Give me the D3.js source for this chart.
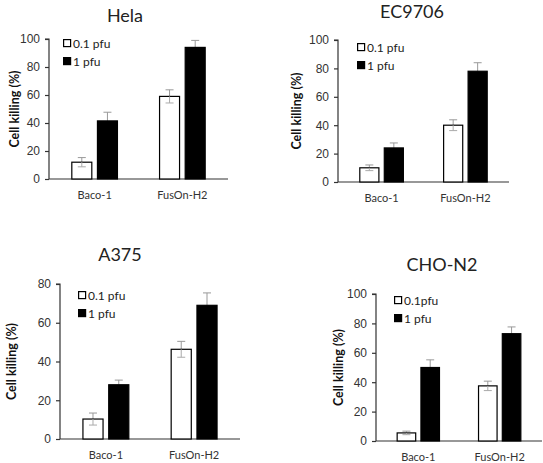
<!DOCTYPE html>
<html>
<head>
<meta charset="utf-8">
<script src="https://cdn.jsdelivr.net/npm/d3@7"></script>
<style>
  body { margin: 0; background: #fff; }
  svg { display: block; font-family: Lato, "Open Sans", sans-serif; }
</style>
</head>
<body>
<div id="chart"></div>
<script>
// --------------------------------------
//  data
// --------------------------------------

const categories = ["Baco-1", "FusOn-H2"];
const seriesNames = ["0.1 pfu", "1 pfu"];
const seriesNamesCho = ["0.1pfu", "1 pfu"];

const helaLow = [12, 59];
const helaLowErr = [3.3, 4.7];
const helaHigh = [41.5, 94];
const helaHighErr = [6.2, 5];

const ecLow = [10, 40];
const ecLowErr = [2, 3.8];
const ecHigh = [24, 78];
const ecHighErr = [3.5, 6];

const a375Low = [10.3, 46.3];
const a375LowErr = [3.1, 4.1];
const a375High = [28, 69];
const a375HighErr = [2.4, 6.4];

const choLow = [5.5, 37.5];
const choLowErr = [1.2, 3.2];
const choHigh = [50, 73];
const choHighErr = [5.2, 4.6];

const ticks100 = [0, 20, 40, 60, 80, 100];
const ticks80 = [0, 20, 40, 60, 80];

// --------------------------------------
//  panel layout
// --------------------------------------

const width = 543, height = 463;

const panels = [
  { title: "Hela", names: seriesNames, low: helaLow, lowErr: helaLowErr, high: helaHigh, highErr: helaHighErr,
    yMax: 100, ticks: ticks100, x0: 49, x1: 228, yTop: 39, yBot: 179, titleX: 125, titleY: 22, labelX: 14, legX: 63, legY: 39 },
  { title: "EC9706", names: seriesNames, low: ecLow, lowErr: ecLowErr, high: ecHigh, highErr: ecHighErr,
    yMax: 100, ticks: ticks100, x0: 338, x1: 509, yTop: 40, yBot: 182, titleX: 412, titleY: 18, labelX: 296, legX: 357, legY: 43 },
  { title: "A375", names: seriesNames, low: a375Low, lowErr: a375LowErr, high: a375High, highErr: a375HighErr,
    yMax: 80, ticks: ticks80, x0: 60, x1: 240, yTop: 284, yBot: 439, titleX: 120, titleY: 261, labelX: 11, legX: 78, legY: 291 },
  { title: "CHO-N2", names: seriesNamesCho, low: choLow, lowErr: choLowErr, high: choHigh, highErr: choHighErr,
    yMax: 100, ticks: ticks100, x0: 376, x1: 542, yTop: 294, yBot: 441, titleX: 442, titleY: 271, labelX: 338, legX: 394, legY: 296 }
];

const svg = d3.select("#chart")
  .append("svg")
    .attr("width", width)
    .attr("height", height)
    .attr("viewBox", [0, 0, width, height]);

panels.forEach(p => {

  const g = svg.append("g");

  // scales
  let x = d3.scaleBand()
      .domain(categories)
      .range([p.x0, p.x1])
      .paddingInner(0.48)
      .paddingOuter(0.26);

  let xs = d3.scaleBand()
      .domain([0, 1])
      .range([0, x.bandwidth()])
      .padding(0.22)
      .paddingOuter(0);

  let y = d3.scaleLinear()
      .domain([0, p.yMax])
      .range([p.yBot, p.yTop]);

  // axes
  const yAxis = g.append("g")
      .attr("transform", `translate(${p.x0}, 0)`)
      .call(d3.axisLeft(y).tickValues(p.ticks).tickSize(4).tickPadding(5));
  yAxis.select(".domain").attr("stroke", "#333").attr("stroke-width", 1.2)
      .attr("d", `M-4,${p.yTop}H0V${p.yBot}`);
  yAxis.selectAll(".tick line").attr("stroke", "#333").attr("stroke-width", 1.2);
  yAxis.selectAll(".tick text").attr("fill", "#333").style("font-size", "12px");

  g.append("line")
      .attr("x1", p.x0).attr("x2", p.x1)
      .attr("y1", p.yBot).attr("y2", p.yBot)
      .attr("stroke", "#333")
      .attr("stroke-width", 1.2);

  g.selectAll(".cat")
    .data(categories)
    .join("text")
      .attr("x", d => x(d) + x.bandwidth() / 2)
      .attr("y", p.yBot + 20)
      .attr("text-anchor", "middle")
      .attr("fill", "#333")
      .style("font-size", "11px")
      .text(d => d);

  // bars
  const rows = [];
  categories.forEach((c, i) => {
    rows.push({ cat: c, s: 0, v: p.low[i], e: p.lowErr[i] });
    rows.push({ cat: c, s: 1, v: p.high[i], e: p.highErr[i] });
  });

  g.selectAll(".err")
    .data(rows)
    .join("path")
      .attr("fill", "none")
      .attr("stroke", "#999")
      .attr("stroke-width", 1)
      .attr("d", d => {
        const cx = x(d.cat) + xs(d.s) + xs.bandwidth() / 2;
        return `M${cx},${y(d.v)}V${y(d.v + d.e)}M${cx - 4},${y(d.v + d.e)}H${cx + 4}`;
      });

  g.selectAll(".bar")
    .data(rows)
    .join("rect")
      .attr("x", d => x(d.cat) + xs(d.s))
      .attr("y", d => y(d.v))
      .attr("width", xs.bandwidth())
      .attr("height", d => p.yBot - y(d.v))
      .attr("fill", d => d.s === 0 ? "#fff" : "#000")
      .attr("stroke", "#000")
      .attr("stroke-width", 1.2);

  // white bars: lower cap shows inside
  g.selectAll(".errlow")
    .data(rows.filter(d => d.s === 0))
    .join("path")
      .attr("fill", "none")
      .attr("stroke", "#aaa")
      .attr("stroke-width", 1)
      .attr("d", d => {
        const cx = x(d.cat) + xs(d.s) + xs.bandwidth() / 2;
        return `M${cx},${y(d.v)}V${y(d.v - d.e)}M${cx - 4},${y(d.v - d.e)}H${cx + 4}`;
      });

  // title
  g.append("text")
      .attr("x", p.titleX)
      .attr("y", p.titleY)
      .attr("text-anchor", "middle")
      .attr("fill", "#222")
      .style("font-size", "18px")
      .text(p.title);

  // y label
  g.append("text")
      .attr("transform", `translate(${p.labelX}, ${(p.yTop + p.yBot) / 2}) rotate(-90)`)
      .attr("text-anchor", "middle")
      .attr("dominant-baseline", "central")
      .attr("fill", "#111")
      .style("font-size", "12.5px")
      .style("font-weight", "bold")
      .text("Cell killing (%)");

  // legend
  p.names.forEach((n, i) => {
    g.append("rect")
        .attr("x", p.legX + 0.6)
        .attr("y", p.legY + i * 18 + 0.6)
        .attr("width", 7)
        .attr("height", 7)
        .attr("fill", i === 0 ? "#fff" : "#000")
        .attr("stroke", "#000")
        .attr("stroke-width", 1.2);
    g.append("text")
        .attr("x", p.legX + 10)
        .attr("y", p.legY + i * 18 + 4)
        .attr("dominant-baseline", "central")
        .attr("fill", "#222")
        .style("font-size", "12px")
        .text(n);
  });
});
</script>
</body>
</html>
